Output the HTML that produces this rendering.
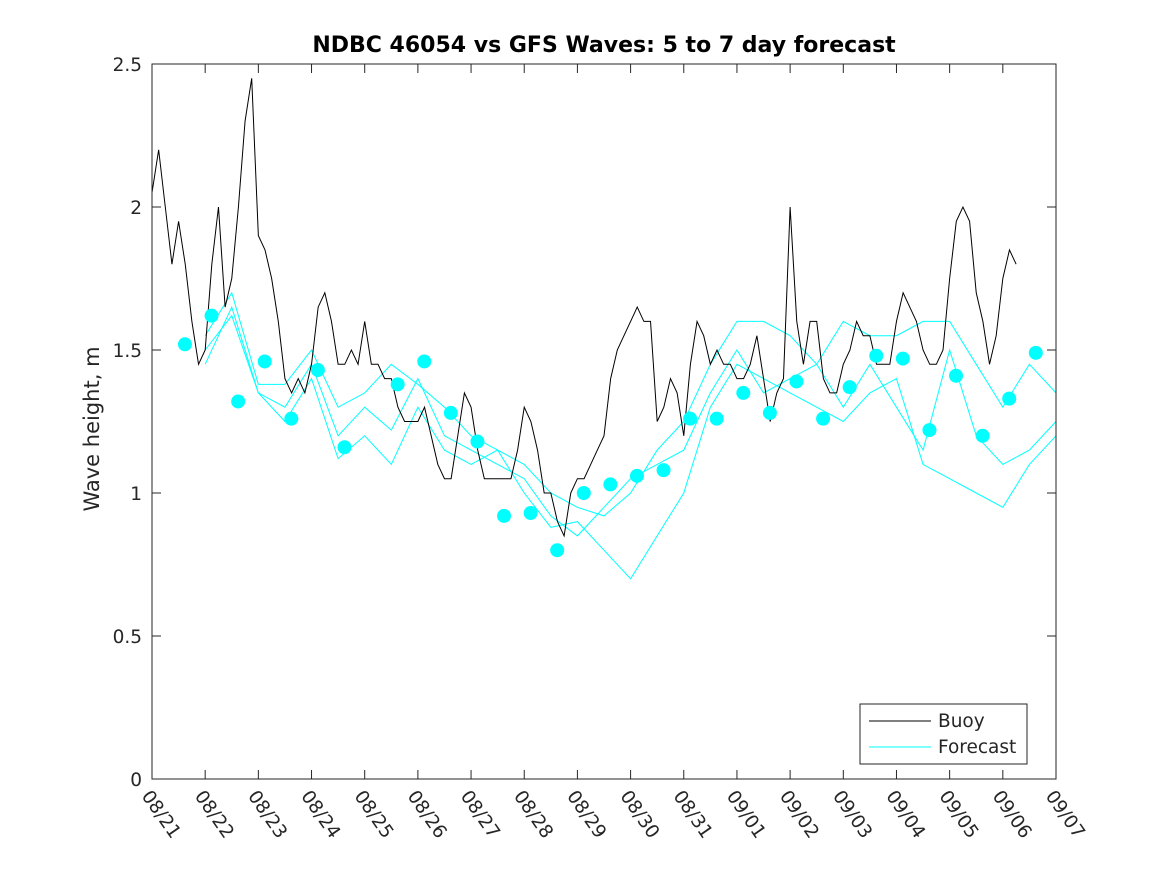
<!DOCTYPE html>
<html><head><meta charset="utf-8"><style>
body{margin:0;background:#fff;}
svg text{font-family:"DejaVu Sans","Liberation Sans",sans-serif;fill:#262626;}
</style></head><body>
<svg id="chart" width="1167" height="875" xmlns="http://www.w3.org/2000/svg">
<rect width="1167" height="875" fill="#fff"/>
<text x="604" y="52" text-anchor="middle" font-size="22" font-weight="bold" style="fill:#000">NDBC 46054 vs GFS Waves: 5 to 7 day forecast</text>
<text transform="translate(99,429) rotate(-90)" text-anchor="middle" font-size="21">Wave height, m</text>
<g id="grid"></g>
<g id="series"></g>
<rect x="152" y="64" width="904" height="715" fill="none" stroke="#262626" stroke-width="1"/>
<g>
<rect x="860" y="704" width="167" height="60" fill="#fff" stroke="#262626"/>
<line x1="869" y1="721" x2="931" y2="721" stroke="#000"/>
<text x="938" y="727" font-size="18.5">Buoy</text>
<line x1="869" y1="747" x2="931" y2="747" stroke="#00ffff"/>
<text x="938" y="753" font-size="18.5">Forecast</text>
</g>
</svg>
<script>
const xTickLabels=["08/21","08/22","08/23","08/24","08/25","08/26","08/27","08/28","08/29","08/30","08/31","09/01","09/02","09/03","09/04","09/05","09/06","09/07"];
const yTicks=[0,0.5,1,1.5,2,2.5];
const buoyStep=0.125;
const buoy=[2.05,2.2,2.0,1.8,1.95,1.8,1.6,1.45,1.5,1.8,2.0,1.65,1.75,2.0,2.3,2.45,1.9,1.85,1.75,1.6,1.4,1.35,1.4,1.35,1.45,1.65,1.7,1.6,1.45,1.45,1.5,1.45,1.6,1.45,1.45,1.4,1.4,1.3,1.25,1.25,1.25,1.3,1.2,1.1,1.05,
1.05,1.2,1.35,1.3,1.15,1.05,1.05,1.05,1.05,1.05,1.15,1.3,1.25,1.15,1.0,1.0,0.9,0.85,1.0,1.05,1.05,1.1,1.15,1.2,1.4,1.5,1.55,1.6,1.65,1.6,1.6,1.25,1.3,1.4,1.35,1.2,1.45,1.6,1.55,1.45,1.5,1.45,1.45,1.4,1.4,1.45,1.55,1.4,1.25,1.35,1.4,2.0,1.6,1.45,1.6,1.6,1.4,1.35,1.35,1.45,1.5,1.6,1.55,1.55,1.45,1.45,1.45,1.6,1.7,1.65,1.6,1.5,1.45,1.45,1.5,1.75,1.95,2.0,1.95,1.7,1.6,1.45,1.55,1.75,1.85,1.8];
const dotStart=0.62, dotStep=0.5;
const forecastDots=[1.52,1.62,1.32,1.46,1.26,1.43,1.16,null,1.38,1.46,1.28,1.18,0.92,0.93,0.80,1.00,1.03,1.06,1.08,1.26,1.26,1.35,1.28,1.39,1.26,1.37,1.48,1.47,1.22,1.41,1.20,1.33,1.49];
const fcStart=1.0, fcStep=0.5;
const fcA=[1.55,1.70,1.38,1.38,1.50,1.30,1.35,1.45,1.38,1.30,1.20,1.15,1.10,1.00,0.95,0.92,1.00,1.15,1.25,1.45,1.60,1.60,1.55,1.45,1.60,1.55,1.55,1.60,1.60,1.45,1.30,1.45,1.35];
const fcB=[1.50,1.62,1.35,1.25,1.40,1.12,1.20,1.10,1.30,1.15,1.10,1.15,1.00,0.88,0.90,0.80,0.70,0.85,1.00,1.30,1.45,1.40,1.35,1.30,1.25,1.35,1.40,1.10,1.05,1.00,0.95,1.10,1.20];
const fcC=[1.45,1.65,1.35,1.30,1.45,1.20,1.30,1.22,1.40,1.20,1.15,1.10,1.05,0.92,0.85,0.95,1.05,1.10,1.15,1.35,1.50,1.35,1.40,1.45,1.30,1.45,1.30,1.15,1.50,1.20,1.10,1.15,1.25];

const NS="http://www.w3.org/2000/svg";
const X0=152,X1=1056,Y0=779,Y1=64;
const xs=d=>X0+(X1-X0)*d/17;
const ys=v=>Y0-(Y0-Y1)*v/2.5;
const grid=document.getElementById('grid'), ser=document.getElementById('series');
function mk(tag,attrs,parent){const e=document.createElementNS(NS,tag);for(const k in attrs)e.setAttribute(k,attrs[k]);parent.appendChild(e);return e;}
xTickLabels.forEach((l,i)=>{
 const x=xs(i);
 const t=mk('line',{x1:x,y1:Y0,x2:x,y2:Y0-9,stroke:'#262626'},grid);
 
 
 const t2=mk('line',{x1:x,y1:Y1,x2:x,y2:Y1+9,stroke:'#262626'},grid);
 
 
 const tx=mk('text',{transform:`translate(${x-11},${Y0+17}) rotate(55)`,'font-size':18.5},grid);
 tx.textContent=l;
 
 
});
yTicks.forEach(v=>{
 const y=ys(v);
 const t=mk('line',{x1:X0,y1:y,x2:X0+9,y2:y,stroke:'#262626'},grid);
 
 
 const t2=mk('line',{x1:X1,y1:y,x2:X1-9,y2:y,stroke:'#262626'},grid);
 
 
 const tx=mk('text',{x:X0-10,y:y+7,'text-anchor':'end','font-size':18.5},grid);
 tx.textContent=String(v);
 
 
});
[[fcA,'forecast-line-a'],[fcB,'forecast-line-b'],[fcC,'forecast-line-c']].forEach(([arr,name])=>{
 const p=mk('polyline',{points:arr.map((v,i)=>Math.min(xs(fcStart+i*fcStep),X1)+','+ys(v)).join(' '),fill:'none',stroke:'#00ffff','stroke-width':1},ser);
 
 
});
const bl=mk('polyline',{points:buoy.map((v,i)=>xs(i*buoyStep)+','+ys(v)).join(' '),fill:'none',stroke:'#000','stroke-width':1},ser);


forecastDots.forEach((v,i)=>{
 if(v===null)return;
 const c=mk('circle',{cx:xs(dotStart+i*dotStep),cy:ys(v),r:7,fill:'#00ffff'},ser);
 
 
});
</script>
</body></html>
